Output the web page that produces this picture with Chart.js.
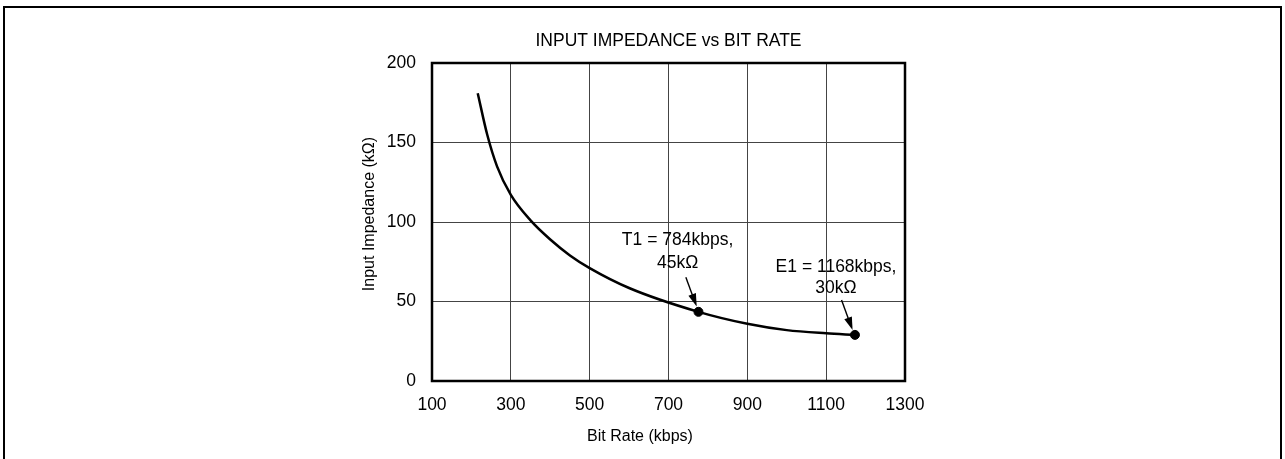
<!DOCTYPE html>
<html>
<head>
<meta charset="utf-8">
<script src="https://cdn.jsdelivr.net/npm/chart.js@4"></script>
<style>
    body{margin:0;background:#fff;overflow:hidden;}
    #frame{position:absolute;left:3px;top:6px;width:1275px;height:520px;border:2px solid #000;}
    #wrap{position:absolute;left:0;top:0;width:1285px;height:459px;}
</style>
</head>
<body>
<div id="frame"></div>
<div id="wrap"><canvas id="impedance_chart" width="1285" height="459"></canvas></div>
<script>
// 곡선 데이터
const rateKbps = [216, 240, 265, 300, 350, 400, 450, 500, 600, 776, 900, 1000, 1100, 1173];
const impedanceK = [181, 155, 135, 117, 101, 89, 79, 71, 58.5, 43.5, 36, 32, 30, 29];
// 표시점 (T1, E1)
const markRate = [776, 1173];
const markImp = [43.5, 29];
const markText = [["T1 = 784kbps,", "45k\u03A9"], ["E1 = 1168kbps,", "30k\u03A9"]];
const xTicks = [100, 300, 500, 700, 900, 1100, 1300];
const yTicks = [0, 50, 100, 150, 200];

const FONT = "'Liberation Sans', Arial, sans-serif";

// 라벨 위치 (데이터 좌표)
const notePos = [
    {x:723, y1:88.7, y2:74.0, ax:744, ay:65.2, bx:771.5, by:46.8},
    {x:1125, y1:71.9, y2:58.3, ax:1139, ay:50.9, bx:1167, by:32}
];

const extras = {
    id:"extras",
    afterDraw(chart){
        const c = chart.ctx, a = chart.chartArea;
        const xs = chart.scales.x, ys = chart.scales.y;
        c.save();
        // plot frame
        c.strokeStyle = "#000";
        c.lineWidth = 2.5;
        c.strokeRect(a.left, a.top, a.right - a.left, a.bottom - a.top);
        // axis titles
        c.fillStyle = "#000";
        c.font = "16px " + FONT;
        c.textAlign = "center";
        c.textBaseline = "middle";
        c.fillText("Bit Rate (kbps)", 640, 437);
        c.save();
        c.translate(370, 214);
        c.rotate(-Math.PI / 2);
        c.fillText("Input Impedance (k\u03A9)", 0, 0);
        c.restore();
        // annotations
        c.font = "17.5px " + FONT;
        for(let i=0; i<notePos.length; i++){
            const p = notePos[i];
            const tx = xs.getPixelForValue(p.x);
            c.fillText(markText[i][0], tx, ys.getPixelForValue(p.y1));
            c.fillText(markText[i][1], tx, ys.getPixelForValue(p.y2));
            const x0 = xs.getPixelForValue(p.ax), y0 = ys.getPixelForValue(p.ay);
            const x1 = xs.getPixelForValue(p.bx), y1 = ys.getPixelForValue(p.by);
            const ang = Math.atan2(y1 - y0, x1 - x0);
            const cs = Math.cos(ang), sn = Math.sin(ang);
            c.lineWidth = 1.4;
            c.beginPath();
            c.moveTo(x0, y0);
            c.lineTo(x1 - 9 * cs, y1 - 9 * sn);
            c.stroke();
            c.beginPath();
            c.moveTo(x1, y1);
            c.lineTo(x1 - 13 * cs + 4 * sn, y1 - 13 * sn - 4 * cs);
            c.lineTo(x1 - 13 * cs - 4 * sn, y1 - 13 * sn + 4 * cs);
            c.closePath();
            c.fill();
        }
        c.restore();
    }
};

let curve = rateKbps.map((v, i) => ({x:v, y:impedanceK[i]}));
let marks = markRate.map((v, i) => ({x:v, y:markImp[i]}));

let ctx = document.getElementById("impedance_chart");
let impedance_chart = new Chart(ctx, {
    type:"line",
    data:{
        datasets:[
            {
                data:curve,
                borderColor:"#000",
                borderWidth:2.5,
                pointRadius:0,
                cubicInterpolationMode:"monotone",
                fill:false
            },
            {
                data:marks,
                showLine:false,
                pointRadius:4.5,
                pointBackgroundColor:"#000",
                pointBorderColor:"#000"
            }
        ]
    },
    options:{
        responsive:false,
        animation:false,
        layout:{padding:{left:362, right:380, top:20, bottom:0}},
        plugins:{
            legend:{display:false},
            tooltip:{enabled:false},
            title:{
                display:true,
                fullSize:false,
                text:"INPUT IMPEDANCE vs BIT RATE",
                color:"#000",
                font:{family:FONT, size:17.5, weight:"normal"},
                padding:{top:10.8, bottom:11.2}
            }
        },
        scales:{
            x:{
                type:"linear",
                min:100,
                max:1300,
                afterBuildTicks:s => { s.ticks = xTicks.map(v => ({value:v})); },
                afterFit:s => { s.height = 78; },
                ticks:{color:"#000", padding:14, font:{family:FONT, size:17.5}, callback:v => String(v)},
                grid:{color:"#444", lineWidth:1, drawTicks:false},
                border:{display:false}
            },
            y:{
                type:"linear",
                min:0,
                max:200,
                afterBuildTicks:s => { s.ticks = yTicks.map(v => ({value:v})); },
                afterFit:s => { s.width = 70; },
                ticks:{color:"#000", padding:16, font:{family:FONT, size:17.5}, callback:v => String(v)},
                grid:{color:"#444", lineWidth:1, drawTicks:false},
                border:{display:false}
            }
        }
    },
    plugins:[extras]
});
</script>
</body>
</html>
